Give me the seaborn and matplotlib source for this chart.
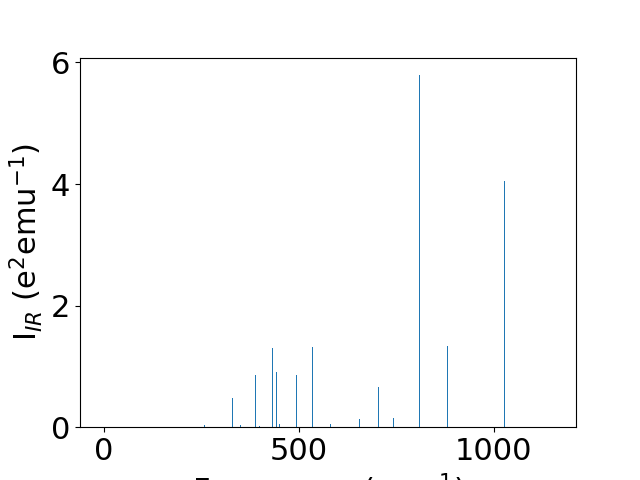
import matplotlib
matplotlib.use("Agg")
import matplotlib.pyplot as plt
import seaborn as sns

# Frecuencias (cm^-1) e intensidades IR
frecuencias = [258, 330, 351, 389, 399, 433, 443, 451, 494, 535, 582,
               656, 705, 743, 810, 872, 880, 1028]
intensidades = [0.04, 0.48, 0.04, 0.86, 0.02, 1.30, 0.91, 0.055, 0.86, 1.32, 0.055,
                0.14, 0.66, 0.15, 5.79, 0.03, 1.34, 4.05]

fig, ax = plt.subplots(figsize=(6.4, 4.8), dpi=100)

sns.barplot(x=frecuencias, y=intensidades, native_scale=True, width=0.3,
            color="#1f77b4", errorbar=None, ax=ax, saturation=1)

ax.set_xlim(-61.6, 1210.6)
ax.set_ylim(0, max(intensidades) * 1.05)
ax.set_xticks([0, 500, 1000])
ax.set_yticks([0, 2, 4, 6])
ax.tick_params(labelsize=22)
ax.set_xlabel("Frequency (cm$^{-1}$)", fontsize=22)
ax.set_ylabel("I$_{IR}$ (e$^2$emu$^{-1}$)", fontsize=22)

plt.savefig("out.png")
